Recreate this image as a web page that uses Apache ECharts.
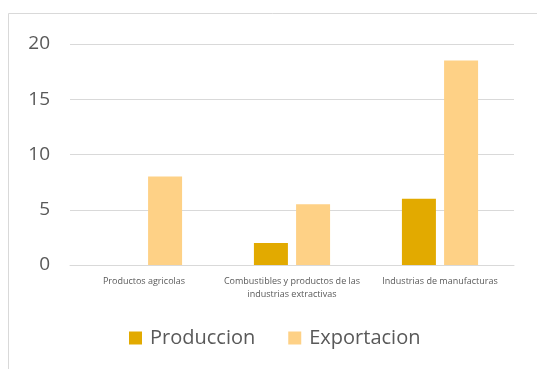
<!DOCTYPE html>
<html><head><meta charset="utf-8">
<style>html,body{margin:0;padding:0;background:#fff}#c{width:537px;height:369px}</style>
<script src="https://cdn.jsdelivr.net/npm/echarts@6/dist/echarts.min.js"></script>
</head><body><div id="c"></div>
<script>
const categories = ["Productos agricolas", "Combustibles y productos de las\nindustrias extractivas", "Industrias de manufacturas"];
const produccion = [0, 2, 6];
const exportacion = [8, 5.5, 18.5];
const yTicks = [0, 5, 10, 15, 20];

const chart = echarts.init(document.getElementById('c'), null, {renderer: 'canvas'});
chart.setOption({
  animation: false,
  backgroundColor: '#fff',
  graphic: [
    {type: 'line', shape: {x1: 8.5, y1: 13.5, x2: 537, y2: 13.5}, style: {stroke: '#d9d9d9', lineWidth: 1}},
    {type: 'line', shape: {x1: 8.5, y1: 13.5, x2: 8.5, y2: 369}, style: {stroke: '#d9d9d9', lineWidth: 1}}
  ],
  grid: {left: 70, right: 23, top: 44, bottom: 104, containLabel: false},
  legend: {
    data: ['Produccion', 'Exportacion'],
    bottom: 16, left: 124,
    icon: 'rect', itemWidth: 13, itemHeight: 13, itemGap: 33,
    textStyle: {fontFamily: 'Open Sans', fontSize: 20, color: '#595959', padding: [0, 0, 0, 3]}
  },
  xAxis: {
    type: 'category', data: categories,
    axisLine: {lineStyle: {color: '#d9d9d9', width: 1}},
    axisTick: {show: false},
    axisLabel: {fontFamily: 'Open Sans', fontSize: 9, color: '#595959', margin: 10, lineHeight: 13, interval: 0}
  },
  yAxis: {
    type: 'value', min: 0, max: 20, interval: 5,
    axisLine: {show: false}, axisTick: {show: false},
    axisLabel: {fontFamily: 'Open Sans', fontSize: 19, color: '#595959', margin: 20,
      formatter: v => yTicks.includes(v) ? String(v) : ''},
    splitLine: {lineStyle: {color: '#d9d9d9', width: 1}}
  },
  series: [
    {name: 'Produccion', type: 'bar', data: produccion, barWidth: 34, barGap: '24%', itemStyle: {color: '#e2aa00'}},
    {name: 'Exportacion', type: 'bar', data: exportacion, barWidth: 34, itemStyle: {color: '#fed186'}}
  ]
});
</script></body></html>
